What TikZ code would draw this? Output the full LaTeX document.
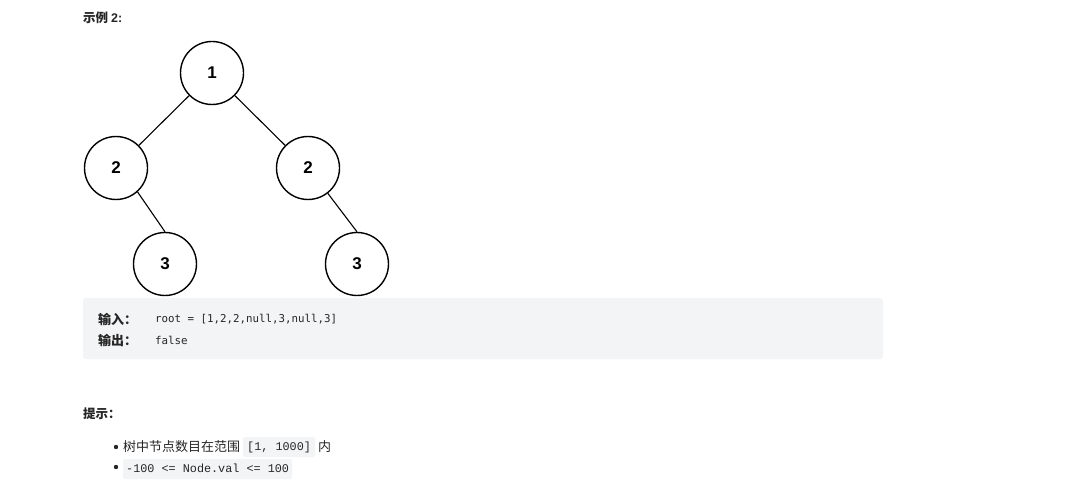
\documentclass[tikz,border=0pt]{standalone}
\usepackage{fontspec}
\setmainfont{Liberation Sans}
\setmonofont{Liberation Mono}
\newfontfamily\codefont{DejaVu Sans Mono}
\newfontfamily\cjk{Noto Sans CJK SC}
\definecolor{codebg}{HTML}{F3F4F5}
\definecolor{txt}{HTML}{262626}
\begin{document}
\begin{tikzpicture}[x=1pt,y=-1pt,
  tn/.style={circle,draw=black,line width=1.4pt,minimum size=63pt,inner sep=0pt,font=\fontsize{17}{17}\selectfont\bfseries},
  edge/.style={line width=1.1pt},
  txtn/.style={anchor=west,inner sep=0pt,text=txt}]
\useasboundingbox (0,0) rectangle (1065,497);
\fill[white] (0,0) rectangle (1065,497);
\node[txtn,font=\fontsize{12.5}{12.5}\selectfont] (title) at (83,18) {\cjk\bfseries 示例 \rmfamily\bfseries 2:};
\node[tn] (a) at (212,73) {1};
\node[tn] (b) at (116,168) {2};
\node[tn] (c) at (308,168) {2};
\node[tn] (d) at (165,264) {3};
\node[tn] (e) at (357,264) {3};
\draw[edge] (a) -- (b);
\draw[edge] (a) -- (c);
\draw[edge] (b.-48) -- (d.north);
\draw[edge] (c.-52) -- (e.north);
\fill[codebg,rounded corners=3pt] (83,298) rectangle (883,359);
\node[txtn,font=\fontsize{13}{13}\selectfont] (in) at (98,319) {\cjk\bfseries 输入：};
\node[txtn,font=\fontsize{10.8}{10.8}\selectfont\codefont] (inv) at (155,319) {root = [1,2,2,null,3,null,3]};
\node[txtn,font=\fontsize{13}{13}\selectfont] (out) at (98,340) {\cjk\bfseries 输出：};
\node[txtn,font=\fontsize{10.8}{10.8}\selectfont\codefont] (outv) at (155,340) {false};
\node[txtn,font=\fontsize{12.5}{12.5}\selectfont] (tip) at (83,414) {\cjk\bfseries 提示：};
\fill[txt] (116,447) circle (2.2pt);
\fill[txt] (116,467) circle (2.2pt);
\node[txtn,font=\fontsize{13}{13}\selectfont] (t1) at (123,447) {\cjk 树中节点数目在范围};
\fill[codebg,rounded corners=2pt] (243,437) rectangle (315,457);
\node[txtn,font=\fontsize{11.8}{11.8}\selectfont\ttfamily] (t1c) at (247,447) {[1, 1000]};
\node[txtn,font=\fontsize{13}{13}\selectfont] (t1e) at (318,447) {\cjk 内};
\fill[codebg,rounded corners=2pt] (123,459) rectangle (292,479);
\node[txtn,font=\fontsize{11.8}{11.8}\selectfont\ttfamily] (t2) at (126,468) {-100 <= Node.val <= 100};
\end{tikzpicture}
\end{document}
